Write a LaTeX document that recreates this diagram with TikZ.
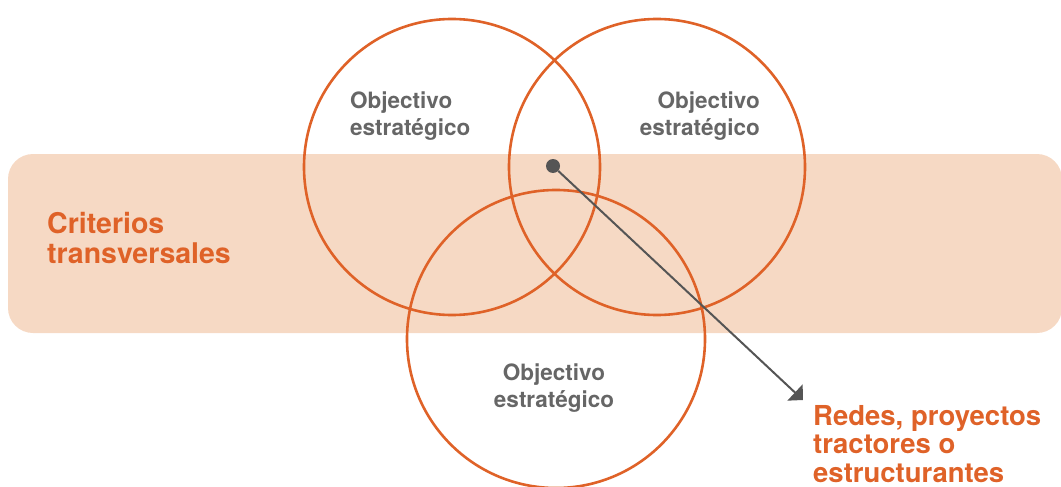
\documentclass[tikz,border=0pt]{standalone}
\usepackage{fontspec}
\setmainfont{TeX Gyre Heros}
\usetikzlibrary{arrows.meta}
\definecolor{vorange}{HTML}{DF6228}
\definecolor{vband}{HTML}{F6D9C4}
\definecolor{vgray}{HTML}{666666}
\definecolor{vdark}{HTML}{555555}

\begin{document}
\begin{tikzpicture}[x=1pt, y=-1pt,
  goal/.style={draw=vorange, line width=2.6pt, shape=circle, inner sep=0pt, minimum size=296pt},
  goaltext/.style={text=vgray, font=\bfseries\fontsize{22.5}{26.5}\selectfont, inner sep=0pt},
  orangetext/.style={text=vorange, font=\bfseries\fontsize{28.5}{29.5}\selectfont, inner sep=0pt, align=left}]
\useasboundingbox (0,0) rectangle (1061,487);
\fill [vband, rounded corners=25pt] (8,154) rectangle (1062,333);
\node [goal] (goalleft) at (452,167) {};
\node [goal] (goalright) at (657,167) {};
\node [goal, minimum size=298pt] (goalbottom) at (556,339) {};
\node [orangetext, anchor=west] (criteria) at (47,238) {Criterios\\transversales};
\node [goaltext, anchor=west, align=left] (textleft) at (350,116) {Objectivo\\estratégico};
\node [goaltext, anchor=east, align=right] (textright) at (760,116) {Objectivo\\estratégico};
\node [goaltext, align=center] (textbottom) at (554,388) {Objectivo\\estratégico};
\node [orangetext, font=\bfseries\fontsize{27.5}{28.5}\selectfont, anchor=west] (networks) at (813,444) {Redes, proyectos\\tractores o\\estructurantes};
\node [fill=vdark, shape=circle, inner sep=0pt, minimum size=14pt] (dot) at (553,166) {};
\coordinate (tip) at (803,400);
\draw [vdark, line width=2pt, -{Triangle[length=11pt, width=22pt]}] (dot) -- (tip);
\end{tikzpicture}
\end{document}
